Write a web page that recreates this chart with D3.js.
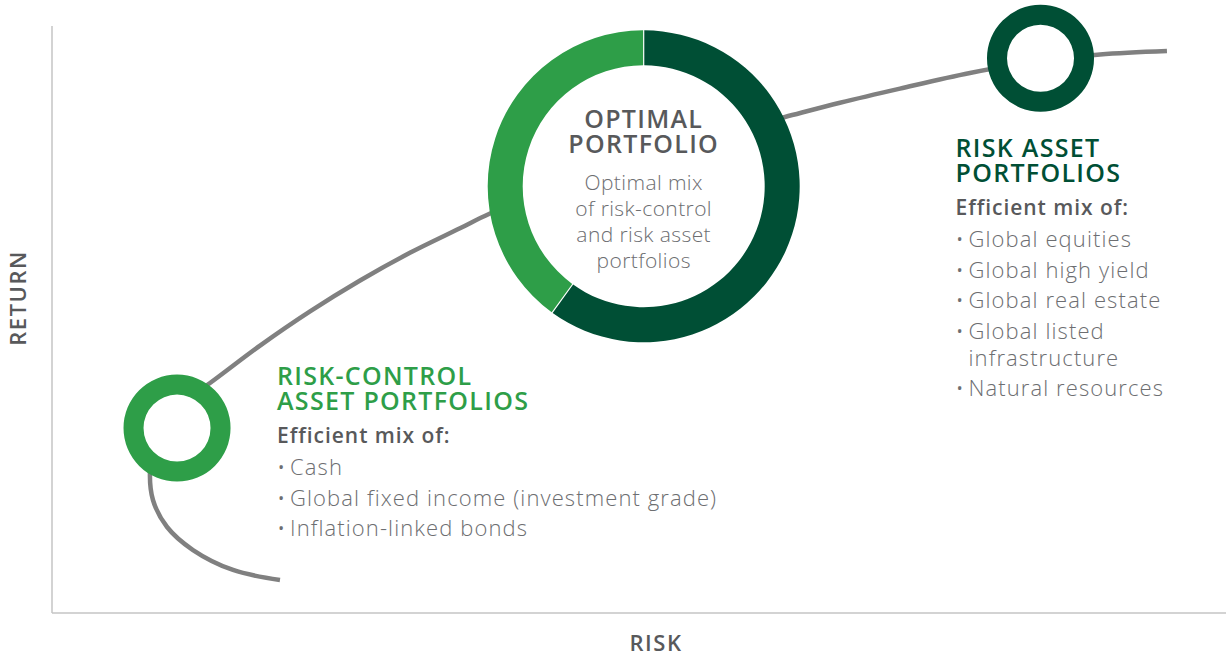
<!DOCTYPE html>
<html>
<head>
<meta charset="utf-8">
<script src="https://cdn.jsdelivr.net/npm/d3@7"></script>
<style>
  body { margin: 0; background: #fff; }
  svg text { font-family: "Open Sans", Lato, sans-serif; }
  .axisTitle { font-size: 22px; fill: #58595b; font-weight: 600; letter-spacing: 1.5px; }
  .title { font-size: 25px; font-weight: 600; letter-spacing: 1.3px; }
  .sub { font-size: 21px; font-weight: 600; fill: #58595b; letter-spacing: 0.95px; }
  .item { font-size: 22px; font-weight: 300; fill: #6d6e71; letter-spacing: 1.1px; }
  .mid { font-size: 21px; font-weight: 300; fill: #6d6e71; letter-spacing: 0.4px; }
</style>
</head>
<body>
<div id="chart"></div>
<script>
const width = 1226;
const height = 655;

// efficient frontier (risk, return on a 0-100 scale)
const frontierRisk   = [19.42, 15.42, 12.01, 9.80, 8.60, 8.35, 8.77, 9.88, 11.50, 13.46, 17.72, 21.98, 26.24, 30.49, 34.75, 37.31, 43.27, 50.09, 56.90, 62.44, 67.12, 72.23, 78.19, 84.16, 89.27, 94.97];
const frontierReturn = [5.62, 7.33, 10.73, 14.65, 19.25, 24.36, 29.13, 33.22, 36.46, 39.18, 45.55, 51.38, 56.64, 61.36, 65.54, 68.06, 72.68, 77.38, 81.60, 84.50, 86.93, 89.34, 91.99, 94.04, 95.15, 95.74];

// the three portfolios on the frontier
const portfolioNames  = ["Risk-control", "Optimal", "Risk asset"];
const portfolioRisk   = [10.65, 50.4, 84.2];
const portfolioReturn = [31.5, 72.7, 94.5];

// optimal portfolio split: risk asset / risk-control
const mixNames  = ["Risk asset", "Risk-control"];
const mixShares = [60, 40];

const riskControlItems = ["Cash", "Global fixed income (investment grade)", "Inflation-linked bonds"];
const riskAssetItems   = ["Global equities", "Global high yield", "Global real estate", ["Global listed", "infrastructure"], "Natural resources"];
const optimalText      = ["Optimal mix", "of risk-control", "and risk asset", "portfolios"];

const lightGreen = "#2e9e48";
const darkGreen  = "#004f35";

const svg = d3.select("#chart").append("svg")
   .attr("width", width)
   .attr("height", height);

const x = d3.scaleLinear().domain([0, 100]).range([52, 1226]);
const y = d3.scaleLinear().domain([0, 100]).range([613, 26]);

// axes: plain lines, no ticks
svg.append("line")
   .attr("x1", x(0)).attr("x2", x(0))
   .attr("y1", y(0)).attr("y2", y(100))
   .attr("stroke", "#c4c4c4").attr("stroke-width", 1.5);
svg.append("line")
   .attr("x1", x(0)).attr("x2", x(100))
   .attr("y1", y(0)).attr("y2", y(0))
   .attr("stroke", "#c4c4c4").attr("stroke-width", 1.5);

svg.append("text")
   .attr("class", "axisTitle")
   .attr("transform", "translate(26, 298) rotate(-90)")
   .style("text-anchor", "middle")
   .text("RETURN");

svg.append("text")
   .attr("class", "axisTitle")
   .attr("x", 656)
   .attr("y", 651)
   .style("text-anchor", "middle")
   .text("RISK");

// frontier curve
const pts = frontierRisk.map((r, i) => [r, frontierReturn[i]]);
const line = d3.line()
   .x(d => x(d[0]))
   .y(d => y(d[1]))
   .curve(d3.curveCatmullRom.alpha(0.5));

svg.append("path")
   .datum(pts)
   .attr("d", line)
   .attr("fill", "none")
   .attr("stroke", "#808080")
   .attr("stroke-width", 4.5);

// small rings
const smallArc = d3.arc().innerRadius(33.5).outerRadius(53.5).startAngle(0).endAngle(2*Math.PI);
[0, 2].forEach(i => {
   const g = svg.append("g")
      .attr("transform", `translate(${x(portfolioRisk[i])}, ${y(portfolioReturn[i])})`);
   g.append("circle").attr("r", 34).attr("fill", "#fff");
   g.append("path").attr("d", smallArc()).attr("fill", i == 0 ? lightGreen : darkGreen);
});

// optimal donut
const pie = d3.pie().sort(null).padAngle(0.006);
const bigArc = d3.arc().innerRadius(121).outerRadius(156);
const og = svg.append("g")
   .attr("transform", `translate(${x(portfolioRisk[1])}, ${y(portfolioReturn[1])})`);
og.append("circle").attr("r", 122).attr("fill", "#fff");
og.selectAll("path.slice")
   .data(pie(mixShares))
   .enter()
   .append("path")
   .attr("class", "slice")
   .attr("d", bigArc)
   .attr("fill", (d, i) => i == 0 ? darkGreen : lightGreen);

og.selectAll("text.otitle")
   .data(["OPTIMAL", "PORTFOLIO"])
   .enter()
   .append("text")
   .attr("class", "title")
   .attr("y", (d, i) => -58 + i*25)
   .style("text-anchor", "middle")
   .style("fill", "#58595b")
   .text(d => d);

og.selectAll("text.otext")
   .data(optimalText)
   .enter()
   .append("text")
   .attr("class", "mid")
   .attr("y", (d, i) => 4 + i*26)
   .style("text-anchor", "middle")
   .text(d => d);

// text blocks
function block(x0, y0, titles, colour, items) {
   const g = svg.append("g").attr("transform", `translate(${x0}, ${y0})`);
   titles.forEach((t, i) => {
      g.append("text").attr("class", "title").attr("y", i*25)
         .style("fill", colour).text(t);
   });
   let yy = titles.length*25 + 8;
   g.append("text").attr("class", "sub").attr("y", yy).text("Efficient mix of:");
   yy += 1.5;
   items.forEach(it => {
      const lines = Array.isArray(it) ? it : [it];
      yy += 30.5;
      lines.forEach((l, j) => {
         if (j > 0) yy += 27;
         if (j == 0) {
            g.append("text").attr("class", "item").attr("y", yy).text("•");
         }
         g.append("text").attr("class", "item").attr("x", 13).attr("y", yy).text(l);
      });
   });
}

const lx = x(portfolioRisk[0]), ly = y(portfolioReturn[0]);
block(lx + 100, ly - 43, ["RISK-CONTROL", "ASSET PORTFOLIOS"], lightGreen, riskControlItems);

const rx = x(portfolioRisk[2]), ry = y(portfolioReturn[2]);
block(rx - 85, ry + 99, ["RISK ASSET", "PORTFOLIOS"], darkGreen, riskAssetItems);
</script>
</body>
</html>
